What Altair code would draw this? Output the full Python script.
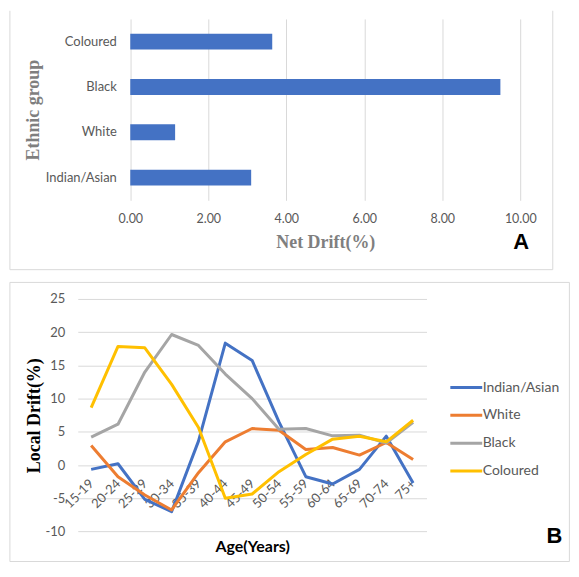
import altair as alt
import pandas as pd

# ---------------- data ----------------
ethnic_groups = ["Indian/Asian", "White", "Black", "Coloured"]
net_drift = [3.10, 1.15, 9.49, 3.64]

ages = ["15-19", "20-24", "25-29", "30-34", "35-39", "40-44", "45-49",
        "50-54", "55-59", "60-64", "65-69", "70-74", "75+"]
indian_asian = [-0.65, 0.2, -5.15, -7.0, 3.6, 18.35, 15.75, 6.5, -1.75, -2.85, -0.65, 4.35, -2.7]
white = [2.95, -1.75, -4.5, -6.75, -1.15, 3.5, 5.5, 5.25, 2.35, 2.65, 1.5, 3.4, 0.85]
black = [4.2, 6.15, 14.0, 19.65, 18.0, 13.7, 10.0, 5.4, 5.5, 4.4, 4.5, 3.3, 6.45]
coloured = [8.65, 17.85, 17.65, 12.15, 5.65, -5.0, -4.35, -1.0, 1.6, 3.9, 4.35, 3.5, 6.75]

series_colors = ["#4472C4", "#ED7D31", "#A5A5A5", "#FFC000"]
bar_order = ["Coloured", "Black", "White", "Indian/Asian"]

df_bar = pd.DataFrame({"group": ethnic_groups, "drift": net_drift})

rows = []
for name, vals in zip(ethnic_groups, [indian_asian, white, black, coloured]):
    for a, v in zip(ages, vals):
        rows.append({"group": name, "age": a, "value": v})
df_line = pd.DataFrame(rows)

GRID = "#d9d9d9"
LABEL = "#595959"
BORDER = "#d9d9d9"

# ---------------- panel A ----------------
# plot area shares its left edge with panel B; the bar scale starts 52.7px in
WA, HA = 444.1, 182
X0 = 52.7
bars = alt.Chart(df_bar).mark_bar(color="#4472C4").encode(
    x=alt.X("drift:Q",
            scale=alt.Scale(domain=[0, 10], nice=False, range=[X0, WA]),
            axis=alt.Axis(values=[0, 2, 4, 6, 8, 10], format=".2f", grid=True,
                          gridColor=GRID, domain=False, ticks=False, tickSize=0,
                          labelPadding=18, labelBaseline="middle", labelFlush=False,
                          labelAlign="center",
                          labelFont="Lato", labelFontSize=12.5, labelColor=LABEL,
                          title="Net Drift(%)", titleFont="Liberation Serif",
                          titleFontSize=18, titleFontWeight="bold",
                          titleColor="#7f7f7f", titleX=248.4, titleY=42,
                          titleBaseline="middle", titleAlign="center")),
    y=alt.Y("group:N", sort=bar_order,
            scale=alt.Scale(paddingInner=0.648, paddingOuter=0.324),
            axis=alt.Axis(domain=False, ticks=False, tickSize=0, grid=False,
                          offset=-X0,
                          labelPadding=14, labelFont="Lato", labelFontSize=13,
                          labelColor=LABEL, title="Ethnic group",
                          titleFont="Liberation Serif", titleFontSize=18,
                          titleFontWeight="bold", titleColor="#7f7f7f",
                          titleX=-97, titleY=HA / 2, titleAngle=-90,
                          titleBaseline="middle", titleAlign="center")),
)

one = alt.Data(values=[{"k": 1}])
a_left = alt.Chart(one).mark_rule(color=BORDER, strokeWidth=1).encode(
    x=alt.value(-68.1), y=alt.value(-8.2), y2=alt.value(251.6))
a_right = alt.Chart(one).mark_rule(color=BORDER, strokeWidth=1).encode(
    x=alt.value(476.7), y=alt.value(-8.2), y2=alt.value(251.6))
a_bottom = alt.Chart(one).mark_rule(color=BORDER, strokeWidth=1).encode(
    x=alt.value(-68.1), x2=alt.value(476.7), y=alt.value(251.6))
a_tag = alt.Chart(one).mark_text(text="A", font="Liberation Sans", fontSize=22,
                                 fontWeight="bold", color="black",
                                 align="center", baseline="middle").encode(
    x=alt.value(445.1), y=alt.value(224))

panel_a = alt.layer(bars, a_left, a_right, a_bottom, a_tag).properties(width=WA, height=HA)

# ---------------- panel B ----------------
WB, HB = 350, 233.4
lines = alt.Chart(df_line).mark_line(strokeWidth=3, strokeJoin="round").encode(
    x=alt.X("age:O", sort=ages,
            scale=alt.Scale(type="point", padding=0.5),
            axis=alt.Axis(labelAngle=-45, labelAlign="right", labelBaseline="middle",
                          offset=-66.7, domain=False, ticks=False, tickSize=0,
                          labelPadding=16, grid=False, labelOverlap=False,
                          labelFont="Lato", labelFontSize=13, labelColor=LABEL,
                          title="Age(Years)", titleFont="Lato", titleFontWeight="bold",
                          titleFontSize=16, titleColor="black", titleX=WB / 2,
                          titleY=82, titleBaseline="middle", titleAlign="center")),
    y=alt.Y("value:Q",
            scale=alt.Scale(domain=[-10, 25], nice=False, zero=False),
            axis=alt.Axis(values=list(range(-10, 30, 5)), labelExpr="'' + datum.value",
                          domain=False, ticks=False, tickSize=0, labelPadding=13,
                          grid=True, gridColor=GRID, labelFont="Lato", labelFontSize=13,
                          labelColor=LABEL, title="Local Drift(%)",
                          titleFont="Liberation Serif", titleFontSize=18,
                          titleFontWeight="bold", titleColor="black",
                          titleX=-43, titleY=HB / 2, titleAngle=-90,
                          titleBaseline="middle", titleAlign="center")),
    color=alt.Color("group:N",
                    scale=alt.Scale(domain=ethnic_groups, range=series_colors),
                    legend=alt.Legend(title=None, orient="none", legendX=378.4,
                                      legendY=77.4, symbolType="M-1.6,0H1.6",
                                      symbolSize=400, symbolStrokeWidth=3,
                                      labelFont="Lato", labelFontSize=14,
                                      labelColor=LABEL, labelOffset=5,
                                      rowPadding=8.9, padding=0)),
    order=alt.Order("gorder:Q"),
    detail="group:N",
).transform_calculate(
    gorder="indexof(['Indian/Asian','White','Black','Coloured'], datum.group)"
)

b_box = alt.Chart(one).mark_rect(fill="transparent", stroke=BORDER, strokeWidth=1).encode(
    x=alt.value(-68.1), x2=alt.value(493.4), y=alt.value(-16.6), y2=alt.value(263.5))
b_tag = alt.Chart(one).mark_text(text="B", font="Liberation Sans", fontSize=22,
                                 fontWeight="bold", color="black",
                                 align="center", baseline="middle").encode(
    x=alt.value(478.4), y=alt.value(238.4))

panel_b = alt.layer(lines, b_box, b_tag).properties(width=WB, height=HB)

chart = alt.vconcat(panel_a, panel_b, spacing=10).properties(
    padding=0, background="white"
).resolve_scale(color="independent").resolve_legend(color="independent").configure_view(
    stroke="transparent")

chart.save("out.html", embed_options={"renderer": "svg", "actions": False})
